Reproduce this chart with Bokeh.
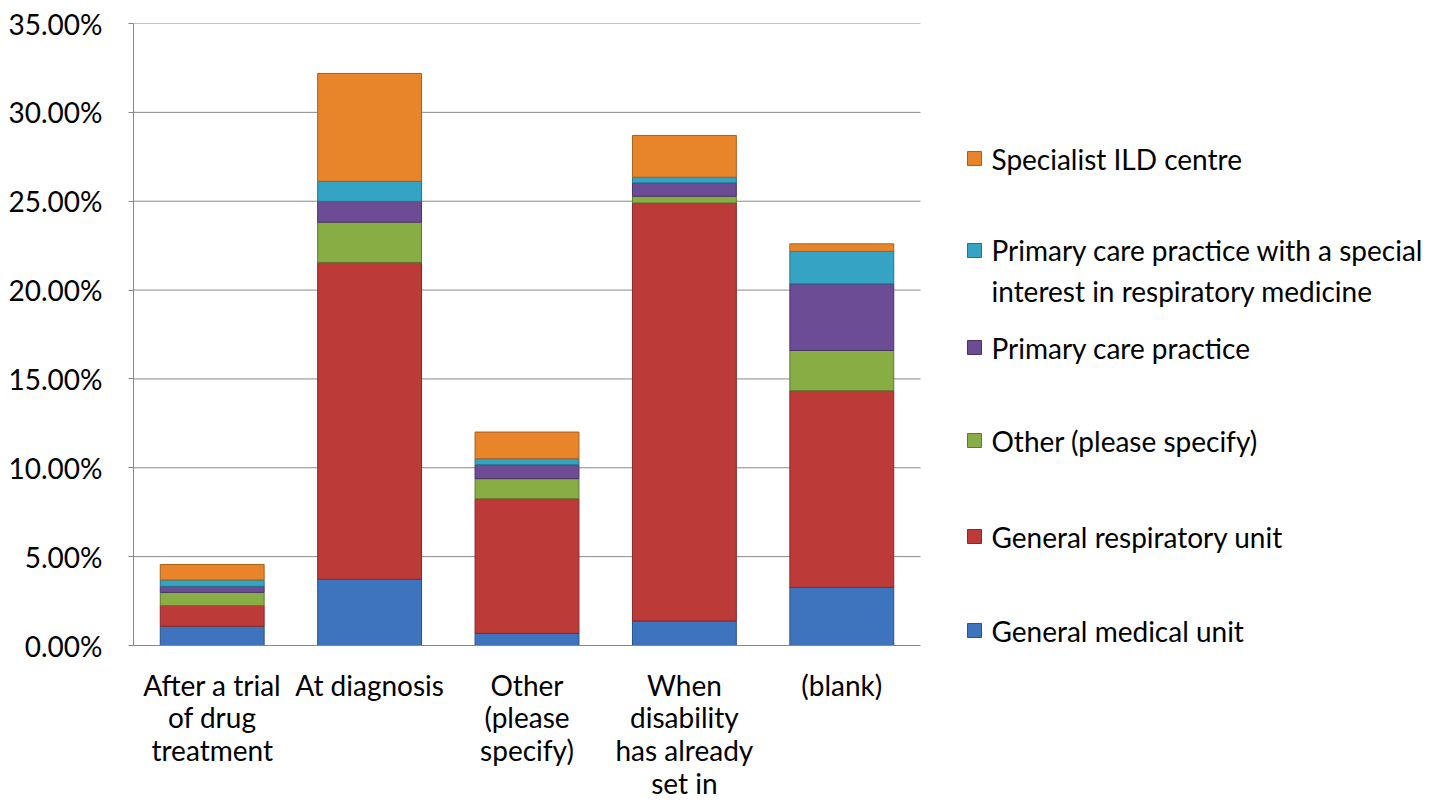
from bokeh.plotting import figure
from bokeh.models import FixedTicker, NumeralTickFormatter, ColumnDataSource
from bokeh.core.properties import value
from bokeh.embed import file_html
from bokeh.resources import INLINE

# ---- data (percent) ----
categories = ["After a trial of drug treatment", "At diagnosis", "Other (please specify)",
              "When disability has already set in", "(blank)"]
category_labels = ["After a trial\nof drug\ntreatment", "At diagnosis", "Other\n(please\nspecify)",
                   "When\ndisability\nhas already\nset in", "(blank)"]
series_names = ["General medical unit", "General respiratory unit", "Other (please specify)",
                "Primary care practice",
                "Primary care practice with a special\ninterest in respiratory medicine",
                "Specialist ILD centre"]
general_medical = [1.08, 3.73, 0.68, 1.38, 3.27]
general_respiratory = [1.17, 17.83, 7.58, 23.52, 11.07]
other_specify = [0.74, 2.26, 1.13, 0.38, 2.26]
primary_care = [0.34, 1.17, 0.78, 0.75, 3.75]
primary_special = [0.36, 1.13, 0.34, 0.32, 1.83]
specialist_ild = [0.87, 6.07, 1.50, 2.35, 0.42]
y_ticks = [0.0, 0.05, 0.10, 0.15, 0.20, 0.25, 0.30, 0.35]

colors = ["#3d74bd", "#bc3a38", "#89ad45", "#6c4d95", "#35a3c3", "#e8852b"]
edge_colors = ["#2a5288", "#86292a", "#5f7a30", "#4a3466", "#25738a", "#a85f1e"]

FONT = "Lato"
FS = "28px"

x = [1, 2, 3, 4, 5]
keys = ["gm", "gr", "ot", "pc", "ps", "sp"]
series_vals = [general_medical, general_respiratory, other_specify, primary_care,
               primary_special, specialist_ild]
data = {"x": x}
for k, vals in zip(keys, series_vals):
    data[k] = [v / 100.0 for v in vals]
src = ColumnDataSource(data)

# layout geometry (canvas pixels)
W, H = 1433, 804
left, top = 133, 23
frame_bottom = 645
bottom = H - frame_bottom
frame_w = W - left
frame_h = frame_bottom - top
bar_region_px = 787.0
px_per_unit = bar_region_px / 5.0
x_start = 0.5
x_end = x_start + frame_w / px_per_unit
y_end = 0.35

p = figure(width=W, height=H, output_backend="svg", toolbar_location=None,
           x_range=(x_start, x_end), y_range=(0, y_end),
           min_border_left=left, min_border_top=top, min_border_bottom=bottom,
           min_border_right=0)
p.outline_line_color = None
p.xgrid.grid_line_color = None
p.ygrid.grid_line_color = None
p.background_fill_color = "white"
p.border_fill_color = "white"

# gridlines over bar region
grid_vals = y_ticks[1:]
p.segment(x0=[0.5] * len(grid_vals), x1=[5.5] * len(grid_vals), y0=grid_vals, y1=grid_vals,
          line_color="#8a8a8a", line_width=1)

p.vbar_stack(keys, x="x", width=0.66, source=src, color=colors,
             line_color=edge_colors, line_width=1)

# y axis
p.yaxis.ticker = FixedTicker(ticks=y_ticks)
p.yaxis.formatter = NumeralTickFormatter(format="0.00%")
p.yaxis.bounds = (0, 0.35)
p.yaxis.axis_line_color = "#868686"
p.yaxis.major_tick_line_color = "#868686"
p.yaxis.major_tick_out = 5
p.yaxis.major_tick_in = 0
p.yaxis.minor_tick_line_color = None
p.yaxis.major_label_standoff = 26
p.yaxis.major_label_text_font = FONT
p.yaxis.major_label_text_font_size = FS
p.yaxis.major_label_text_color = "#000000"

# x axis
p.xaxis.ticker = FixedTicker(ticks=x)
p.xaxis.major_label_overrides = {xi: lab for xi, lab in zip(x, category_labels)}
p.xaxis.bounds = (0.5, 5.5)
p.xaxis.axis_line_color = "#868686"
p.xaxis.major_tick_line_color = None
p.xaxis.minor_tick_line_color = None
p.xaxis.major_label_standoff = 16
p.xaxis.major_label_text_font = FONT
p.xaxis.major_label_text_font_size = FS
p.xaxis.major_label_text_color = "#000000"
p.xaxis.major_label_text_line_height = 0.97


# legend drawn manually (reversed order like the reference)
def px_to_x(cx):
    return x_start + (cx - left) / px_per_unit


def py_to_y(cy):
    return y_end * (frame_bottom - cy) / frame_h


leg_square_y = [630, 536, 440, 347, 250, 158]
leg_text_y = [630, 536, 440, 347, 270, 158]
sq_x = px_to_x(974)
tx_x = px_to_x(991)
p.scatter(x=[sq_x] * 6, y=[py_to_y(v) for v in leg_square_y], marker="square", size=14,
          fill_color=colors, line_color=edge_colors, line_width=1)
p.text(x=[tx_x] * 6, y=[py_to_y(v) for v in leg_text_y], text=series_names,
       text_font=value(FONT), text_font_size=FS, text_baseline="middle", text_align="left",
       text_color="#000000", text_line_height=1.18)

open("out.html", "w").write(file_html(p, INLINE))
